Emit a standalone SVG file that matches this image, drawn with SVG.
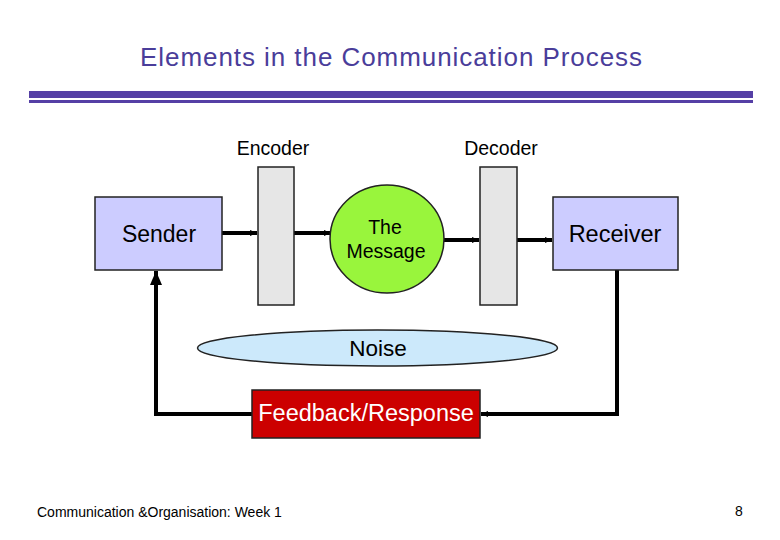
<svg xmlns="http://www.w3.org/2000/svg" width="780" height="540" viewBox="0 0 780 540">
<defs>
<style>
text{font-family:"Liberation Sans",Arial,sans-serif;fill:#000}
.box{fill:#ccccff;stroke:#222;stroke-width:1.5}
.bar{fill:#e6e6e6;stroke:#222;stroke-width:1.5}
.con{fill:none;stroke:#000;stroke-width:4}
</style>
<marker id="ah" markerWidth="8" markerHeight="8" refX="7" refY="4" orient="auto" markerUnits="userSpaceOnUse">
<path d="M0,1 L7,4 L0,7 Z" fill="#000"/>
</marker>
<marker id="ahb" markerWidth="16" markerHeight="16" refX="14" refY="8" orient="auto" markerUnits="userSpaceOnUse">
<path d="M0,2 L14,8 L0,14 Z" fill="#000"/>
</marker>
</defs>
<rect width="780" height="540" fill="#fff"/>
<g id="title">
<text x="391" y="66" font-size="26" text-anchor="middle" style="fill:#4a3d9a" textLength="502" lengthAdjust="spacing">Elements in the Communication Process</text>
<rect x="29" y="91" width="724" height="7" fill="#553fa5"/>
<rect x="29" y="100" width="724" height="3" fill="#553fa5"/>
</g>
<g id="connectors">
<line class="con" x1="222" y1="233" x2="257" y2="233" marker-end="url(#ah)"/>
<line class="con" x1="294" y1="233" x2="331" y2="233" marker-end="url(#ah)"/>
<line class="con" x1="444" y1="240" x2="479" y2="240" marker-end="url(#ah)"/>
<line class="con" x1="517" y1="240" x2="552" y2="240" marker-end="url(#ah)"/>
<polyline class="con" points="617,270 617,414 481,414" marker-end="url(#ah)"/>
<polyline class="con" points="252,414 156,414 156,271" marker-end="url(#ahb)"/>
</g>
<g id="sender">
<rect class="box" x="95" y="197" width="127" height="73"/>
<text x="159" y="242" font-size="23" text-anchor="middle">Sender</text>
</g>
<g id="encoder">
<text x="273" y="155" font-size="19.5" text-anchor="middle">Encoder</text>
<rect class="bar" x="258" y="167" width="36" height="138"/>
</g>
<g id="message">
<ellipse cx="387" cy="239" rx="57" ry="54" fill="#99f53c" stroke="#222" stroke-width="1.5"/>
<text x="385" y="234" font-size="19.5" text-anchor="middle">The</text>
<text x="386" y="258" font-size="19.5" text-anchor="middle">Message</text>
</g>
<g id="decoder">
<text x="501" y="155" font-size="19.5" text-anchor="middle">Decoder</text>
<rect class="bar" x="480" y="167" width="37" height="138"/>
</g>
<g id="receiver">
<rect class="box" x="553" y="197" width="125" height="73"/>
<text x="615" y="242" font-size="23.5" text-anchor="middle">Receiver</text>
</g>
<g id="noise">
<ellipse cx="377.5" cy="348" rx="180" ry="18" fill="#cce9fb" stroke="#222" stroke-width="1.5"/>
<text x="378" y="356" font-size="22.5" text-anchor="middle">Noise</text>
</g>
<g id="feedback">
<rect x="252" y="390" width="228" height="48" fill="#cc0000" stroke="#222" stroke-width="1.5"/>
<text x="366" y="421" font-size="23.5" text-anchor="middle" style="fill:#fff">Feedback/Response</text>
</g>
<g id="footer">
<text x="37" y="517" font-size="14">Communication &amp;Organisation: Week 1</text>
<text x="739" y="516" font-size="14" text-anchor="middle">8</text>
</g>
</svg>
